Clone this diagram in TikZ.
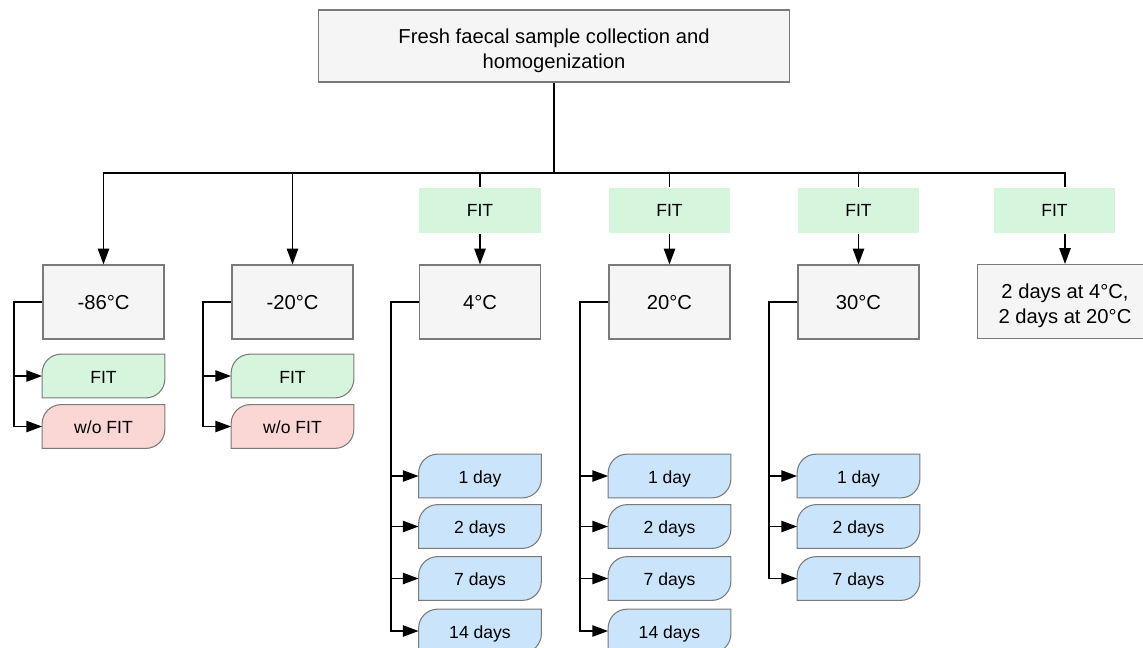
\documentclass[tikz,border=0pt]{standalone}
\usepackage{fontspec}
\setmainfont{Liberation Sans}
\usetikzlibrary{arrows.meta,positioning,backgrounds}

\definecolor{boxgray}{HTML}{F5F5F5}
\definecolor{boxline}{HTML}{7A7A7A}
\definecolor{fitgreen}{HTML}{D5F5DC}
\definecolor{wopink}{HTML}{FAD7D4}
\definecolor{dayblue}{HTML}{C9E4FB}

\def\leafr{0.38cm}
\newcommand\leafoutline[2]{%
  \begin{scope}[on background layer]
    \draw[draw=boxline,line width=0.6pt,fill=#2]
      (#1.south west) -- ([yshift=-\leafr]#1.north west)
      arc[start angle=180,end angle=90,radius=\leafr]
      -- (#1.north east) -- ([yshift=\leafr]#1.south east)
      arc[start angle=0,end angle=-90,radius=\leafr] -- cycle;
  \end{scope}}

\begin{document}
\begin{tikzpicture}[x=0.02cm,y=-0.02cm,>={Triangle[length=9pt,width=6.4pt]},line width=1pt,
    big font/.style={font=\fontsize{11.5}{14.5}\selectfont},
    small font/.style={font=\fontsize{10}{12}\selectfont},
    temp box/.style={draw=boxline,line width=0.6pt,fill=boxgray,minimum width=2.42cm,minimum height=1.48cm,big font,align=center},
    fit box/.style={fill=fitgreen,minimum width=2.44cm,minimum height=0.9cm,small font},
    leaf/.style={minimum width=2.42cm,minimum height=0.84cm,inner sep=0pt,text height=10.5pt,text depth=2pt,small font}]

    \useasboundingbox (0,0) rectangle (1143,647);
    \clip (0,0) rectangle (1143,647);

    \node[temp box,minimum width=9.44cm,minimum height=1.44cm] (top) at (554,46)
        {\rule{0pt}{14pt}Fresh faecal sample collection and\\homogenization};

    % storage temperatures
    \foreach \n/\x/\t in {c1/103.5/-86°C, c2/292.5/-20°C, c3/480/4°C, c4/669.5/20°C, c5/858.5/30°C}{
        \node[temp box,text height=10pt,text depth=2pt] (\n) at (\x,302) {\t};
    }
    \node[temp box,minimum width=3.52cm] (c6) at (1065,301.5) {\rule{0pt}{13pt}2 days at 4°C,\\2 days at 20°C};

    \foreach \n/\x in {f3/480, f4/669.5, f5/858.5, f6/1054.5}{
        \node[fit box] (\n) at (\x,210.5) {FIT};
    }

    % bus from the top box
    \coordinate (bus) at (554,173);
    \draw (top.south) -- (bus);
    \foreach \n in {c1,c2}{
        \draw[->] (bus) -| (\n.north);
    }
    \foreach \i in {3,4,5}{
        \draw (bus) -| (f\i.north);
        \draw[->] (f\i.south) -- (c\i.north);
    }
    \draw (bus) -| (c6.north |- f6.north);
    \draw[->] (c6.north |- f6.south) -- (c6.north);

    % frozen samples, with and without FIT
    \foreach \c/\x/\bx in {c1/103.5/14, c2/292.5/203}{
        \node[leaf] (fit\c) at (\x,376) {FIT};
        \node[leaf] (wo\c) at (\x,426.5) {w/o FIT};
        \leafoutline{fit\c}{fitgreen}
        \leafoutline{wo\c}{wopink}
        \coordinate (br\c) at (\bx,302);
        \draw[->] (\c.west) -- (br\c) |- (fit\c.west);
        \draw[->] (br\c) |- (wo\c.west);
    }

    % storage times
    \foreach \c/\x/\bx/\days in {c3/480/391/{1 day/476,2 days/526.5,7 days/578.5,14 days/631},
                                 c4/669.5/580/{1 day/476,2 days/526.5,7 days/578.5,14 days/631},
                                 c5/858.5/769/{1 day/476,2 days/526.5,7 days/578.5}}{
        \coordinate (br\c) at (\bx,302);
        \foreach \lab/\y [count=\i] in \days{
            \node[leaf] (d\i\c) at (\x,\y) {\lab};
            \leafoutline{d\i\c}{dayblue}
            \draw[->] (\c.west) -- (br\c) |- (d\i\c.west);
        }
    }

\end{tikzpicture}
\end{document}
